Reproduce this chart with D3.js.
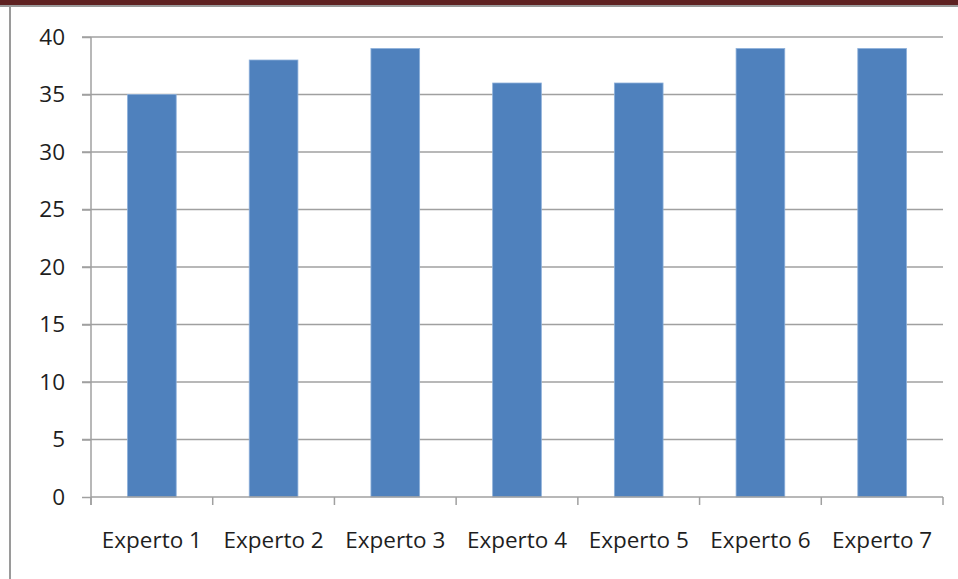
<!DOCTYPE html>
<html>
<head>
<meta charset="utf-8">
<script src="https://cdn.jsdelivr.net/npm/d3@7"></script>
<style>
  body { margin: 0; background: #fff; }
  svg { display: block; }
  .axis text { font-family: "Open Sans", sans-serif; font-size: 22.5px; fill: #1e1e1e; }
  .axis path, .axis line { stroke: #a0a0a0; stroke-width: 1.5; }
</style>
</head>
<body>
<script>
// datos del grafico
const categories = ['Experto 1', 'Experto 2', 'Experto 3', 'Experto 4', 'Experto 5', 'Experto 6', 'Experto 7']
const values = [35, 38, 39, 36, 36, 39, 39]
const yTicks = [0, 5, 10, 15, 20, 25, 30, 35, 40]

const W = 958, H = 579
const margin = { top: 37, right: 15, bottom: 82, left: 91 }
const width = W - margin.left - margin.right
const height = H - margin.top - margin.bottom

const svg = d3.select('body').append('svg')
    .attr('width', W)
    .attr('height', H)

// marco de la pagina
svg.append('rect').attr('x', 0).attr('y', 0).attr('width', W).attr('height', 5).attr('fill', '#5e2121')
svg.append('line').attr('x1', 0).attr('x2', W).attr('y1', 6).attr('y2', 6)
    .attr('stroke', '#9a9a9a').attr('stroke-width', 2)
svg.append('line').attr('x1', 10).attr('x2', 10).attr('y1', 6).attr('y2', H)
    .attr('stroke', '#9a9a9a').attr('stroke-width', 2)

const g = svg.append('g')
    .attr('transform', `translate(${margin.left},${margin.top})`)

const x = d3.scaleBand()
    .domain(categories)
    .range([0, width])
    .paddingInner(0.6)
    .paddingOuter(0.3)

const y = d3.scaleLinear()
    .domain([0, 40])
    .range([height, 0])

// lineas de cuadricula
g.append('g')
    .selectAll('line')
    .data(yTicks.filter(d => d > 0))
    .enter().append('line')
    .attr('x1', -9)
    .attr('x2', width)
    .attr('y1', d => y(d))
    .attr('y2', d => y(d))
    .attr('stroke', '#a0a0a0')
    .attr('stroke-width', 1.5)

g.selectAll('rect.bar')
    .data(values)
    .enter().append('rect')
    .attr('class', 'bar')
    .attr('x', (d, i) => x(categories[i]))
    .attr('y', d => y(d))
    .attr('width', x.bandwidth())
    .attr('height', d => y(0) - y(d))
    .attr('fill', '#4f81bd')
    .attr('stroke', '#8db0da')
    .attr('stroke-width', 0.8)

const yAxis = d3.axisLeft(y)
    .tickValues(yTicks)
    .tickSize(9)
    .tickPadding(17)
g.append('g')
    .attr('class', 'y axis')
    .call(yAxis)
    .call(s => s.select('.domain').attr('d', `M0,0V${height + 8}`))

// eje x con marcas entre categorias
const xAxis = d3.axisBottom(x).tickSize(0).tickPadding(35)
const xg = g.append('g')
    .attr('class', 'x axis')
    .attr('transform', `translate(0,${height})`)
    .call(xAxis)
xg.select('.domain').attr('d', `M0,0H${width}`)
xg.selectAll('line.sep')
    .data(d3.range(categories.length + 1))
    .enter().append('line')
    .attr('class', 'sep')
    .attr('x1', i => i * x.step())
    .attr('x2', i => i * x.step())
    .attr('y1', 0)
    .attr('y2', 8)
</script>
</body>
</html>
